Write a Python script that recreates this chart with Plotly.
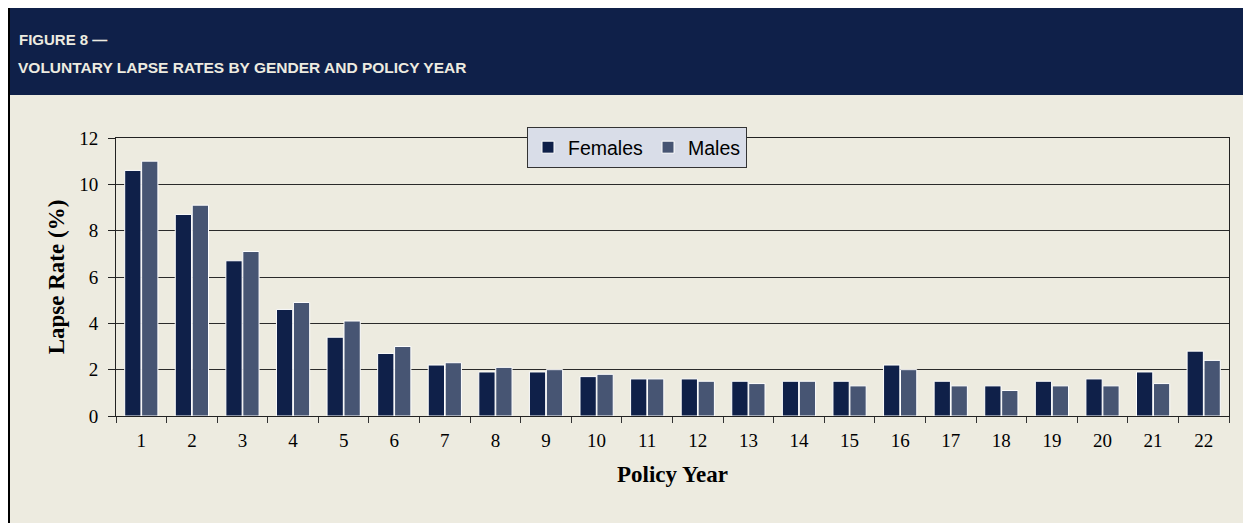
import plotly.graph_objects as go

policy_years = [str(i) for i in range(1, 23)]
females = [10.6, 8.7, 6.7, 4.6, 3.4, 2.7, 2.2, 1.9, 1.9, 1.7, 1.6, 1.6, 1.5, 1.5, 1.5, 2.2, 1.5, 1.3, 1.5, 1.6, 1.9, 2.8]
males = [11.0, 9.1, 7.1, 4.9, 4.1, 3.0, 2.3, 2.1, 2.0, 1.8, 1.6, 1.5, 1.4, 1.5, 1.3, 2.0, 1.3, 1.1, 1.3, 1.3, 1.4, 2.4]
y_ticks = [0, 2, 4, 6, 8, 10, 12]

# the page body adds an 8px margin around the figure div
OFF = 8
W, H = 1251 - OFF, 523 - OFF
ML, MT = 116 - OFF, 138 - OFF
MR = W - (1229 - OFF)
MB = H - (416 - OFF)
PW = W - ML - MR
PH = H - MT - MB

def px(x):  # page pixel -> paper coordinate
    return (x - OFF - ML) / PW

def py(y):
    return 1 - (y - OFF - MT) / PH

BG = "#EDEBE0"
NAVY = "#0F2049"
MALE = "#475573"

fig = go.Figure()
fig.add_trace(go.Bar(name="Females", x=policy_years, y=females, marker=dict(color=NAVY, line=dict(color="white", width=1))))
fig.add_trace(go.Bar(name="Males", x=policy_years, y=males, marker=dict(color=MALE, line=dict(color="white", width=1))))

shapes = [
    dict(type="rect", xref="paper", yref="paper", x0=px(0), x1=px(1270), y0=py(0), y1=py(540),
         fillcolor=BG, line=dict(width=0), layer="below"),
    dict(type="rect", xref="paper", yref="paper", x0=px(0), x1=px(1270), y0=py(0), y1=py(95),
         fillcolor=NAVY, line=dict(width=0), layer="below"),
    dict(type="line", xref="paper", yref="paper", x0=px(9), x1=px(9), y0=py(0), y1=py(540),
         line=dict(color="black", width=2)),
]

annotations = [
    dict(text="<b>FIGURE 8 —</b>", xref="paper", yref="paper", x=px(17), y=py(40), xanchor="left", yanchor="middle",
         showarrow=False, font=dict(family="Liberation Sans", size=15, color="#EDEBE0")),
    dict(text="<b>VOLUNTARY LAPSE RATES BY GENDER AND POLICY YEAR</b>", xref="paper", yref="paper",
         x=px(16), y=py(67), xanchor="left", yanchor="middle", showarrow=False,
         font=dict(family="Liberation Sans", size=15.5, color="#EDEBE0")),
]

fig.update_layout(
    width=W, height=H,
    margin=dict(l=ML, r=MR, t=MT, b=MB),
    paper_bgcolor=BG,
    plot_bgcolor=BG,
    barmode="group",
    bargap=0.33,
    bargroupgap=0.04,
    shapes=shapes,
    annotations=annotations,
    showlegend=True,
    legend=dict(orientation="h", x=px(527), y=py(127), xanchor="left", yanchor="top",
                bgcolor="#D9DDE8", bordercolor="#333333", borderwidth=1,
                font=dict(family="Liberation Sans", size=19.5, color="black"),
                traceorder="normal"),
    xaxis=dict(type="category", tickson="boundaries", ticks="outside", ticklen=6, tickcolor="#333",
               showline=True, linecolor="#222", linewidth=1, mirror=True, showgrid=False,
               ticklabelstandoff=7,
               tickfont=dict(family="Liberation Serif", size=19, color="black"),
               title=dict(text="<b>Policy Year</b>", font=dict(family="Liberation Serif", size=23, color="black"), standoff=16)),
    yaxis=dict(range=[0, 12], tickvals=y_ticks, ticks="outside", ticklen=7, tickcolor="#222",
               showline=True, linecolor="#222", linewidth=1, mirror=True,
               showgrid=True, gridcolor="#2a2a2a", gridwidth=1, zeroline=False,
               ticklabelstandoff=6,
               tickfont=dict(family="Liberation Serif", size=19, color="black"),
               title=dict(text="<b>Lapse Rate (%)</b>", font=dict(family="Liberation Serif", size=23, color="black"), standoff=8)),
)

fig.write_html("out.html")
